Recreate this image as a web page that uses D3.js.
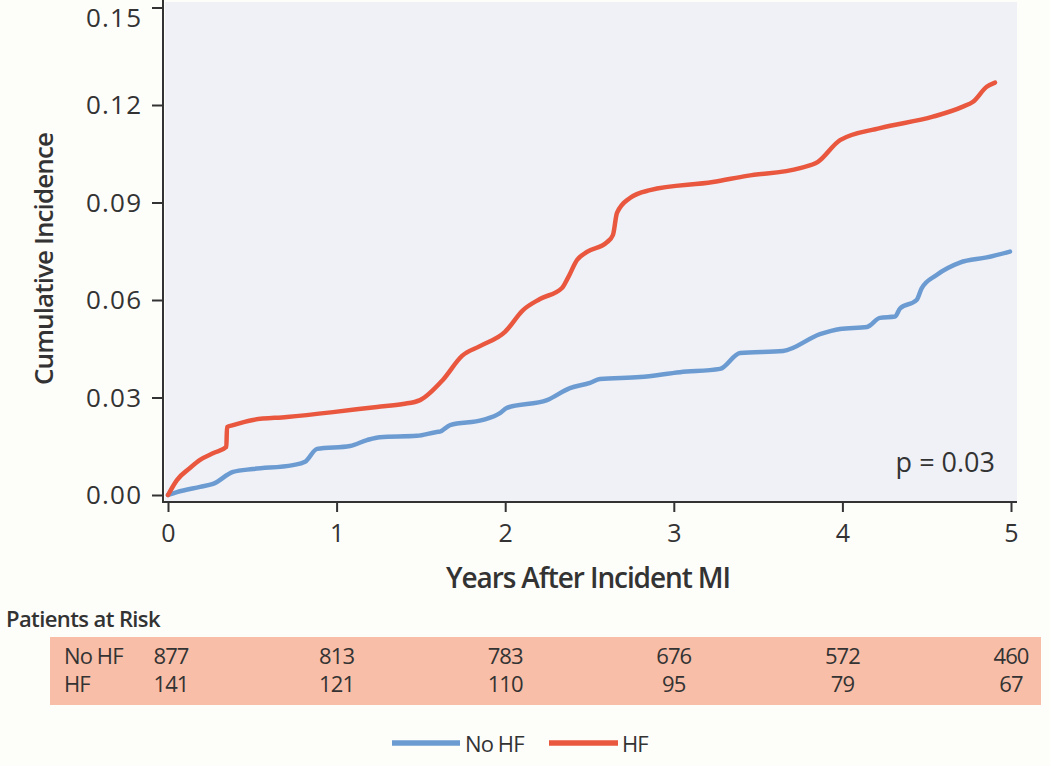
<!DOCTYPE html>
<html>
<head>
<meta charset="utf-8">
<script src="https://cdn.jsdelivr.net/npm/d3@7"></script>
<style>
  html, body { margin: 0; padding: 0; background: #fdfdfa; }
  svg { display: block; }
  text { font-family: "Open Sans", "Noto Sans", sans-serif; fill: #333; }
</style>
</head>
<body>
<svg id="chart" width="1050" height="766"></svg>
<script>
// ---- data ----
const noHfTime = [0, 0.053, 0.19, 0.267, 0.386, 0.504, 0.741, 0.813, 0.884, 1.08, 1.18, 1.257, 1.477, 1.595, 1.613, 1.673, 1.868, 1.969, 2.01, 2.248, 2.384, 2.503, 2.562, 2.8, 3.037, 3.274, 3.393, 3.648, 3.867, 3.986, 4.146, 4.223, 4.312, 4.342, 4.44, 4.47, 4.559, 4.697, 4.856, 4.994];
const noHfValue = [0, 0.0009, 0.0025, 0.0034, 0.0071, 0.008, 0.0092, 0.0102, 0.0142, 0.0151, 0.0169, 0.0178, 0.0182, 0.0194, 0.0195, 0.0215, 0.0231, 0.0252, 0.0268, 0.0292, 0.0329, 0.0345, 0.0357, 0.0363, 0.0378, 0.0388, 0.0437, 0.0443, 0.0495, 0.0511, 0.0517, 0.0545, 0.0549, 0.0574, 0.06, 0.0636, 0.0677, 0.0715, 0.0731, 0.0749];
const hfTime = [0, 0.053, 0.13, 0.19, 0.27, 0.346, 0.35, 0.386, 0.504, 0.706, 0.979, 1.24, 1.394, 1.495, 1.63, 1.744, 1.85, 1.999, 2.106, 2.206, 2.337, 2.372, 2.426, 2.485, 2.604, 2.639, 2.663, 2.74, 2.859, 3.232, 3.434, 3.749, 3.855, 3.986, 4.223, 4.537, 4.715, 4.775, 4.856, 4.905];
const hfValue = [0, 0.0046, 0.0083, 0.0108, 0.0129, 0.0148, 0.0209, 0.0215, 0.0231, 0.024, 0.0255, 0.0271, 0.028, 0.0292, 0.0354, 0.0428, 0.0458, 0.0502, 0.0569, 0.0603, 0.0637, 0.0668, 0.0723, 0.0748, 0.0778, 0.080, 0.0868, 0.0914, 0.0938, 0.0963, 0.0982, 0.1006, 0.1025, 0.1092, 0.1129, 0.1164, 0.1195, 0.121, 0.1256, 0.1269];
const xTicks = [0, 1, 2, 3, 4, 5];
const yTicks = [0, 0.03, 0.06, 0.09, 0.12, 0.15];
const riskGroups = ["No HF", "HF"];
const riskNoHf = [877, 813, 783, 676, 572, 460];
const riskHf = [141, 121, 110, 95, 79, 67];
const seriesNames = ["No HF", "HF"];
const seriesColors = ["#6c9bd2", "#e9573f"];
const pText = "p = 0.03";

// ---- layout ----
const svg = d3.select("#chart");
const x = d3.scaleLinear().domain([0, 5]).range([168, 1011]);
const y = d3.scaleLinear().domain([0, 0.15]).range([495, 7.5]);
const axisX0 = 163, axisY0 = 502;

// plot background
svg.append("rect").attr("x", 165).attr("y", 2).attr("width", 852).attr("height", 499)
  .attr("fill", "#eff1f7");

// axes
const yAxis = d3.axisLeft(y).tickValues(yTicks).tickFormat(d3.format(".2f")).tickSize(11);
const gy = svg.append("g").attr("transform", `translate(${axisX0},0)`).call(yAxis);
gy.select(".domain").remove();
gy.selectAll(".tick line").attr("stroke", "#333").attr("stroke-width", 2);
gy.selectAll(".tick text").attr("font-size", 26).attr("fill", "#333")
  .attr("font-family", "'Open Sans', sans-serif")
  .attr("text-anchor", "start").attr("x", -77).attr("letter-spacing", 1.2)
  .attr("dy", d => d === 0.15 ? "0.74em" : "0.34em");

const xAxis = d3.axisBottom(x).tickValues(xTicks).tickFormat(d3.format("d")).tickSize(10).tickPadding(12);
const gx = svg.append("g").attr("transform", `translate(0,${axisY0})`).call(xAxis);
gx.select(".domain").remove();
gx.selectAll(".tick line").attr("stroke", "#333").attr("stroke-width", 2);
gx.selectAll(".tick text").attr("font-size", 25).attr("fill", "#333")
  .attr("font-family", "'Open Sans', sans-serif");

svg.append("line").attr("x1", axisX0).attr("x2", axisX0).attr("y1", 0).attr("y2", axisY0 + 1)
  .attr("stroke", "#333").attr("stroke-width", 2);
svg.append("line").attr("x1", axisX0).attr("x2", 1017).attr("y1", axisY0).attr("y2", axisY0)
  .attr("stroke", "#333").attr("stroke-width", 2);

// axis titles
svg.append("text").attr("x", 588).attr("y", 588).attr("text-anchor", "middle")
  .attr("font-size", 28).attr("font-weight", 600).attr("letter-spacing", -1.1)
  .text("Years After Incident MI");
svg.append("text").attr("transform", "translate(53,259) rotate(-90)").attr("text-anchor", "middle")
  .attr("font-size", 26).attr("font-weight", 600).attr("letter-spacing", -0.9)
  .text("Cumulative Incidence");

// curves
const line = d3.line().x(d => x(d[0])).y(d => y(d[1])).curve(d3.curveMonotoneX);
const series = [
  d3.zip(noHfTime, noHfValue),
  d3.zip(hfTime, hfValue)
];
series.forEach((s, i) => {
  svg.append("path").datum(s).attr("d", line).attr("fill", "none")
    .attr("stroke", seriesColors[i]).attr("stroke-width", 4.5)
    .attr("stroke-linejoin", "round").attr("stroke-linecap", "round");
});

// p value
svg.append("text").attr("x", 995).attr("y", 472).attr("text-anchor", "end")
  .attr("font-size", 27).text(pText);

// patients at risk
svg.append("text").attr("x", 6).attr("y", 627).attr("font-size", 22).attr("font-weight", 600)
  .attr("letter-spacing", -0.6).text("Patients at Risk");
svg.append("rect").attr("x", 50).attr("y", 637).attr("width", 991).attr("height", 68)
  .attr("fill", "#f9bea7");
const riskRows = [riskNoHf, riskHf];
riskRows.forEach((row, r) => {
  const yy = 664 + r * 28;
  svg.append("text").attr("x", 64).attr("y", yy).attr("font-size", 22)
    .attr("letter-spacing", -0.9).text(riskGroups[r]);
  svg.selectAll(null).data(row).enter().append("text")
    .attr("x", (d, i) => x(xTicks[i]) + (i === 0 ? 3 : 0))
    .attr("y", yy).attr("text-anchor", "middle").attr("font-size", 22)
    .attr("letter-spacing", -0.9).text(d => d);
});

// legend
const legendItems = [
  { x1: 392, x2: 460, tx: 465 },
  { x1: 549, x2: 618, tx: 622 }
];
legendItems.forEach((it, i) => {
  svg.append("line").attr("x1", it.x1).attr("x2", it.x2).attr("y1", 743).attr("y2", 743)
    .attr("stroke", seriesColors[i]).attr("stroke-width", 5.5);
  svg.append("text").attr("x", it.tx).attr("y", 752).attr("font-size", 22)
    .attr("letter-spacing", -0.9).text(seriesNames[i]);
});
</script>
</body>
</html>
